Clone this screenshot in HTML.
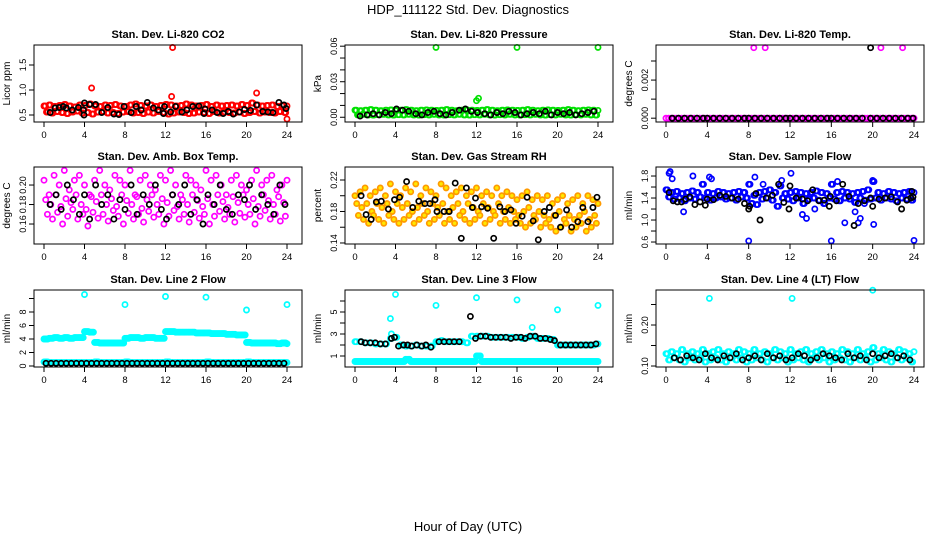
<!DOCTYPE html>
<html><head><meta charset="utf-8"><style>
body{margin:0;background:#fff}
svg{display:block;font-family:"Liberation Sans",sans-serif}
</style></head><body>
<svg id="chart" width="936" height="540" viewBox="0 0 936 540" xmlns="http://www.w3.org/2000/svg">
<text x="468" y="14" font-size="13" text-anchor="middle">HDP_111122  Std. Dev. Diagnostics</text>
<text x="468" y="531" font-size="13" text-anchor="middle">Hour of Day (UTC)</text>
</svg>
<script>
const xTicks=[0,4,8,12,16,20,24];
// CO2
const co2Hi=[0.68,0.70,0.67,0.69,0.71,0.68,0.66,0.70,0.69,0.72,0.68,0.67,0.70,0.69,0.71,0.68,0.67,0.70,0.72,0.69,0.68,0.70,0.67,0.69,0.71,0.70,0.68,0.69,0.72,0.70,0.68,0.69,0.71,0.67,0.70,0.68,0.69,0.70,0.68,0.71,0.69,0.74,0.70,0.68,0.69,0.70,0.67,0.69,0.68];
const co2Lo=[0.56,0.54,0.57,0.55,0.53,0.56,0.58,0.54,0.55,0.52,0.56,0.57,0.54,0.55,0.53,0.56,0.57,0.54,0.55,0.53,0.56,0.54,0.57,0.55,0.52,0.54,0.56,0.55,0.53,0.54,0.56,0.55,0.53,0.57,0.54,0.56,0.55,0.54,0.56,0.53,0.55,0.57,0.54,0.56,0.55,0.54,0.57,0.55,0.56];
const co2OutT=[4.7,12.6,12.7,21,24];
const co2OutV=[1.04,0.87,1.85,0.94,0.42];
const co2BlkT=[0.6,1.1,1.5,1.9,2.2,2.8,3.4,3.9,3.95,4,4.5,5.1,5.7,6.3,6.9,7.4,7.9,8.6,9.1,9.6,10.2,10.8,11.3,11.8,11.9,12.5,13,13.6,14.1,14.7,15.3,15.8,15.9,16.6,17.1,17.7,18.2,18.7,19.3,19.8,20.4,21,21.6,22.1,22.6,23.2,23.7,23.9];
const co2BlkV=[0.55,0.64,0.65,0.67,0.64,0.6,0.65,0.6,0.5,0.74,0.71,0.71,0.55,0.65,0.52,0.51,0.67,0.55,0.67,0.6,0.75,0.64,0.6,0.53,0.67,0.56,0.67,0.56,0.6,0.67,0.68,0.53,0.62,0.6,0.55,0.53,0.57,0.52,0.56,0.61,0.59,0.7,0.57,0.56,0.55,0.75,0.7,0.63];
// Pressure
const prsHi=[0.006,0.0055,0.006,0.0065,0.006,0.0055,0.006,0.0062,0.0058,0.006,0.0065,0.006,0.0055,0.006,0.0062,0.006,0.0058,0.006,0.0065,0.006,0.0055,0.006,0.0062,0.006,0.0058,0.006,0.0065,0.006,0.0055,0.006,0.0062,0.006,0.0058,0.006,0.0065,0.006,0.0055,0.006,0.0062,0.006,0.0058,0.006,0.0065,0.006,0.0055,0.006,0.0062,0.006,0.0058];
const prsLo=[0.002,0.0025,0.002,0.0018,0.0022,0.0025,0.002,0.0018,0.0022,0.002,0.0025,0.002,0.0018,0.0022,0.002,0.0025,0.002,0.0018,0.0022,0.002,0.0025,0.002,0.0018,0.0022,0.002,0.0025,0.002,0.0018,0.0022,0.002,0.0025,0.002,0.0018,0.0022,0.002,0.0025,0.002,0.0018,0.0022,0.002,0.0025,0.002,0.0018,0.0022,0.002,0.0025,0.002,0.0018,0.0022];
const prsOutT=[8,12,12.2,16,24];
const prsOutV=[0.059,0.014,0.016,0.059,0.059];
const prsBlkT=[0.5,1.2,1.8,2.4,3,3.6,4.1,4.7,5.3,6,6.6,7.2,7.8,8.4,9,9.6,10.3,10.9,11.5,12.1,12.8,13.4,14,14.6,15.2,15.8,16.4,17,17.6,18.2,18.8,19.4,20,20.6,21.2,21.8,22.4,23,23.6];
const prsBlkV=[0.001,0.002,0.003,0.002,0.004,0.003,0.007,0.006,0.005,0.003,0.002,0.004,0.005,0.003,0.002,0.004,0.006,0.007,0.005,0.004,0.003,0.002,0.004,0.003,0.005,0.004,0.002,0.003,0.004,0.003,0.005,0.002,0.004,0.003,0.004,0.002,0.003,0.004,0.005];
// Li-820 temp
const tmpMag=[0,0,0,0,0,0,0,0,0,0,0,0,0,0,0,0,0,0,0,0,0,0,0,0,0,0,0,0,0,0,0,0,0,0,0,0,0,0,0,0,0,0,0,0,0,0,0,0,0];
const tmpOutT=[8.5,9.6,20.8,22.9];
const tmpOutV=[0.0037,0.0037,0.0037,0.0037];
const tmpBlkT=[0.6,1.2,1.8,2.4,3,3.6,4,4.6,5.2,5.8,6.4,7,7.6,8,8.6,9.2,9.8,10.4,11,11.6,12,12.6,13.2,13.8,14.4,15,15.6,16,16.6,17.2,17.8,18.4,19,19.8,19.8,20.4,21,21.6,22.2,22.8,23.4,23.9];
const tmpBlkV=[0,0,0,0,0,0,0,0,0,0,0,0,0,0,0,0,0,0,0,0,0,0,0,0,0,0,0,0,0,0,0,0,0,0,0.0037,0,0,0,0,0,0,0];
// Amb box temp
const ambA=[0.205,0.19,0.21,0.2,0.215,0.195,0.205,0.21,0.2,0.19,0.205,0.215,0.2,0.195,0.21,0.205,0.2,0.215,0.19,0.205,0.21,0.2,0.195,0.21,0.205,0.215,0.2,0.19,0.21,0.205,0.2,0.195,0.215,0.205,0.21,0.2,0.19,0.205,0.21,0.2,0.195,0.205,0.215,0.2,0.205,0.21,0.195,0.2,0.205];
const ambB=[0.185,0.18,0.19,0.178,0.186,0.182,0.19,0.18,0.175,0.188,0.183,0.19,0.18,0.186,0.178,0.19,0.184,0.18,0.188,0.176,0.185,0.19,0.18,0.186,0.182,0.19,0.178,0.185,0.18,0.19,0.184,0.178,0.186,0.18,0.19,0.183,0.177,0.188,0.182,0.19,0.18,0.186,0.178,0.19,0.184,0.18,0.188,0.182,0.185];
const ambC=[0.17,0.165,0.172,0.16,0.168,0.175,0.165,0.17,0.158,0.172,0.166,0.17,0.163,0.174,0.168,0.16,0.171,0.165,0.17,0.162,0.173,0.167,0.17,0.16,0.168,0.174,0.165,0.17,0.162,0.172,0.166,0.17,0.16,0.168,0.173,0.165,0.17,0.162,0.171,0.167,0.17,0.16,0.168,0.174,0.165,0.17,0.163,0.168,0.172];
const ambBlkT=[0.6,1.2,1.7,2.3,2.9,3.5,4,4.5,5.1,5.7,6.3,6.9,7.5,8,8.6,9.2,9.8,10.4,11,11.6,12.1,12.7,13.3,13.9,14.5,15.1,15.7,16.2,16.8,17.4,18,18.6,19.2,19.8,20.3,20.9,21.5,22.1,22.7,23.3,23.8];
const ambBlkV=[0.18,0.19,0.175,0.2,0.185,0.17,0.19,0.165,0.2,0.18,0.19,0.165,0.185,0.175,0.2,0.17,0.19,0.18,0.2,0.175,0.165,0.19,0.18,0.2,0.17,0.185,0.16,0.19,0.18,0.2,0.175,0.17,0.19,0.185,0.2,0.175,0.19,0.18,0.17,0.2,0.18];
// Gas stream RH
const rhA=[0.2,0.205,0.21,0.2,0.205,0.21,0.2,0.215,0.205,0.2,0.21,0.205,0.215,0.2,0.21,0.205,0.2,0.215,0.21,0.2,0.205,0.21,0.2,0.205,0.21,0.2,0.205,0.2,0.21,0.2,0.205,0.2,0.195,0.2,0.205,0.195,0.2,0.195,0.2,0.19,0.195,0.2,0.19,0.195,0.2,0.19,0.2,0.195,0.19];
const rhB=[0.19,0.185,0.19,0.18,0.19,0.185,0.19,0.18,0.19,0.185,0.19,0.18,0.185,0.19,0.18,0.19,0.185,0.19,0.18,0.185,0.19,0.18,0.19,0.185,0.18,0.19,0.185,0.18,0.19,0.18,0.185,0.18,0.175,0.18,0.185,0.175,0.18,0.175,0.17,0.175,0.18,0.17,0.175,0.17,0.175,0.18,0.17,0.175,0.18];
const rhC=[0.175,0.17,0.165,0.175,0.17,0.165,0.175,0.17,0.165,0.17,0.175,0.165,0.17,0.175,0.165,0.17,0.175,0.165,0.17,0.165,0.175,0.17,0.165,0.17,0.175,0.165,0.17,0.175,0.165,0.17,0.165,0.17,0.165,0.16,0.165,0.17,0.16,0.165,0.16,0.155,0.16,0.165,0.155,0.16,0.165,0.155,0.16,0.165,0.17];
const rhBlkT=[0.6,1.1,1.6,2.1,2.6,3.3,3.9,4.4,5.1,5.7,6.3,6.9,7.4,7.9,8.1,8.8,9.3,9.9,10.5,11,11.6,11.9,12.5,13.1,13.7,14.3,14.8,15.4,15.9,16.5,17,17.6,18.1,18.7,19.2,19.8,20.3,20.9,21.4,22,22.5,23,23.5,23.9];
const rhBlkV=[0.2,0.176,0.17,0.192,0.193,0.183,0.195,0.198,0.218,0.185,0.193,0.19,0.19,0.195,0.18,0.18,0.18,0.216,0.146,0.21,0.185,0.197,0.186,0.184,0.146,0.186,0.18,0.182,0.165,0.174,0.198,0.168,0.144,0.18,0.185,0.175,0.16,0.182,0.16,0.167,0.185,0.167,0.185,0.198];
// Sample flow
const sfA=[1.55,1.5,1.52,1.48,1.5,1.53,1.5,1.65,1.5,1.48,1.52,1.5,1.48,1.5,1.52,1.5,1.65,1.45,1.5,1.52,1.55,1.5,1.62,1.48,1.5,1.52,1.5,1.48,1.5,1.53,1.5,1.48,1.65,1.5,1.52,1.5,1.48,1.5,1.52,1.55,1.7,1.5,1.48,1.52,1.5,1.48,1.5,1.52,1.5];
const sfB=[1.42,1.38,1.4,1.35,1.4,1.38,1.42,1.4,1.36,1.4,1.42,1.38,1.4,1.36,1.42,1.4,1.3,1.28,1.38,1.4,1.36,1.25,1.4,1.38,1.35,1.4,1.3,1.38,1.4,1.36,1.3,1.4,1.38,1.35,1.4,1.38,1.32,1.4,1.36,1.38,1.4,1.36,1.4,1.38,1.35,1.4,1.38,1.36,1.4];
const sfOutT=[0.3,0.4,0.6,1.7,2.6,4.2,4.4,8,8.6,9.4,11.2,12.1,13.2,13.6,14.4,16,16.6,17.3,18.3,18.6,18.8,19.2,20,20.1,24];
const sfOutV=[1.85,1.88,1.75,1.15,1.8,1.78,1.75,0.62,1.78,1.65,1.72,1.85,1.1,1.03,1.2,0.62,1.7,0.95,1.15,0.95,1.03,1.3,1.72,0.92,0.63];
const sfBlkT=[0.3,0.7,1.1,1.5,1.9,2.3,2.8,3.3,3.8,4,4.6,5.2,5.8,6.4,7,7.6,8,8.1,8.7,9.1,9.7,10.3,10.9,11.4,11.9,12,12.6,13.2,13.7,14.2,14.8,15.3,15.8,15.9,16.5,17.1,17.7,18.2,18.6,19.2,19.8,20,20.6,21.2,21.8,22.4,22.8,23.3,23.7,23.8,23.9];
const sfBlkV=[1.5,1.35,1.33,1.33,1.38,1.42,1.28,1.33,1.27,1.38,1.37,1.45,1.43,1.4,1.38,1.3,1.2,1.25,1.48,1.0,1.4,1.45,1.65,1.32,1.2,1.62,1.4,1.38,1.35,1.55,1.35,1.36,1.25,1.43,1.35,1.65,1.43,0.9,1.3,1.35,1.4,1.25,1.38,1.4,1.42,1.33,1.2,1.36,1.4,1.52,1.42];
// Line 2 flow
const l2Hi=[4.0,4.1,4.2,4.1,4.2,4.1,4.2,4.2,5.1,5.0,3.5,3.4,3.4,3.4,3.4,3.4,4.1,4.2,4.2,4.1,4.2,4.2,4.1,4.1,5.1,5.1,5.0,5.0,5.0,5.0,4.9,4.9,4.9,4.8,4.8,4.8,4.7,4.7,4.6,4.6,3.5,3.4,3.4,3.4,3.4,3.4,3.3,3.4,3.3];
const l2Lo=[0.6,0.5,0.5,0.5,0.5,0.5,0.5,0.5,0.5,0.5,0.6,0.5,0.5,0.5,0.5,0.5,0.6,0.5,0.5,0.5,0.5,0.5,0.5,0.5,0.6,0.5,0.5,0.5,0.5,0.5,0.5,0.5,0.6,0.5,0.5,0.5,0.5,0.5,0.5,0.5,0.6,0.5,0.5,0.5,0.5,0.5,0.5,0.5,0.5];
const l2Blk=[0.4,0.4,0.4,0.4,0.4,0.4,0.4,0.4,0.4,0.4,0.4,0.4,0.4,0.4,0.4,0.4,0.4,0.4,0.4,0.4,0.4,0.4,0.4,0.4,0.4,0.4,0.4,0.4,0.4,0.4,0.4,0.4,0.4,0.4,0.4,0.4,0.4,0.4,0.4,0.4,0.4,0.4,0.4,0.4,0.4,0.4,0.4,0.4,0.4];
const l2OutT=[4,8,12,16,20,24];
const l2OutV=[10.6,9.1,10.3,10.2,8.3,9.1];
// Line 3 flow
const l3Hi=[2.3,2.3,2.2,2.2,2.1,2.1,2.1,2.6,2.7,2.0,1.9,1.9,2.0,1.9,1.9,1.9,2.3,2.4,2.3,2.3,2.3,2.3,2.2,2.8,2.8,2.8,2.8,2.7,2.7,2.7,2.7,2.7,2.7,2.6,2.7,2.8,2.6,2.6,2.6,2.5,2.0,2.0,2.0,2.0,2.0,2.0,2.0,2.0,2.1];
const l3Lo=[0.5,0.5,0.5,0.5,0.5,0.5,0.5,0.5,0.5,0.5,0.7,0.5,0.5,0.5,0.5,0.5,0.5,0.5,0.5,0.5,0.5,0.5,0.5,0.5,1.0,0.5,0.5,0.5,0.5,0.5,0.5,0.5,0.5,0.5,0.5,0.5,0.5,0.5,0.5,0.5,0.5,0.5,0.5,0.5,0.5,0.5,0.5,0.5,0.5];
const l3OutT=[3.5,3.6,4,8,12,16,17.5,20,24];
const l3OutV=[4.4,3.0,6.6,5.6,6.3,6.1,3.6,5.2,5.6];
const l3BlkT=[0.6,1.0,1.5,2.0,2.5,3.0,3.6,3.9,4.3,4.8,5.2,5.6,6.1,6.6,7.0,7.5,8.3,8.8,9.3,9.8,10.3,11.4,11.9,12.4,12.9,13.4,13.9,14.4,14.9,15.4,15.9,16.4,16.8,17.3,17.8,18.3,18.8,19.3,19.7,20.3,20.8,21.3,21.8,22.3,22.8,23.3,23.8];
const l3BlkV=[2.3,2.2,2.2,2.2,2.1,2.1,2.6,2.7,1.9,2.0,2.0,1.9,2.0,1.9,2.0,1.8,2.3,2.3,2.3,2.3,2.3,4.6,2.6,2.8,2.8,2.7,2.7,2.7,2.7,2.6,2.7,2.7,2.6,2.8,2.8,2.6,2.6,2.5,2.4,2.0,2.0,2.0,2.0,2.0,2.0,2.0,2.1];
// Line 4 flow
const l4A=[0.13,0.135,0.13,0.14,0.13,0.135,0.13,0.14,0.13,0.135,0.14,0.13,0.135,0.13,0.14,0.135,0.13,0.14,0.13,0.135,0.13,0.14,0.135,0.13,0.14,0.13,0.135,0.14,0.13,0.135,0.14,0.13,0.135,0.13,0.14,0.135,0.13,0.14,0.13,0.135,0.145,0.13,0.14,0.135,0.13,0.14,0.135,0.13,0.135];
const l4B=[0.115,0.12,0.115,0.11,0.12,0.115,0.12,0.11,0.115,0.12,0.115,0.11,0.12,0.115,0.12,0.11,0.115,0.12,0.115,0.11,0.12,0.115,0.12,0.11,0.115,0.12,0.115,0.11,0.12,0.115,0.12,0.11,0.115,0.12,0.115,0.11,0.12,0.115,0.12,0.11,0.115,0.12,0.115,0.11,0.12,0.115,0.12,0.11,0.115];
const l4OutT=[4.2,12.2,20];
const l4OutV=[0.265,0.265,0.285];
const l4BlkT=[0.8,1.4,2,2.6,3.2,3.8,4.4,5,5.6,6.2,6.8,7.4,8,8.6,9.2,9.8,10.4,11,11.6,12.2,12.8,13.4,14,14.6,15.2,15.8,16.4,17,17.6,18.2,18.8,19.4,20,20.6,21.2,21.8,22.4,23,23.6];
const l4BlkV=[0.12,0.115,0.125,0.12,0.115,0.13,0.12,0.115,0.125,0.12,0.13,0.115,0.12,0.125,0.115,0.13,0.12,0.125,0.115,0.12,0.13,0.125,0.115,0.12,0.13,0.125,0.12,0.115,0.13,0.12,0.125,0.115,0.13,0.12,0.125,0.13,0.12,0.125,0.115];

const NS="http://www.w3.org/2000/svg";
const svg=document.getElementById('chart');
const colLeft=[34,345,656], rowTop=[45,167,290], W=268, H=77;
const panels=[
 {name:'co2',title:'Stan. Dev. Li-820 CO2',yl:'Licor ppm',r:[0.36,1.9],ticks:[0.5,1.0,1.5],labs:['0.5','1.0','1.5'],rep:[0,0.125],
  dense:[[co2Hi,0],[co2Lo,0.25]],col:'#ff0000',fill:'none',out:[co2OutT,co2OutV],blk:[co2BlkT,co2BlkV]},
 {name:'pressure',title:'Stan. Dev. Li-820 Pressure',yl:'kPa',r:[-0.004,0.061],ticks:[0,0.01,0.02,0.03,0.04,0.05,0.06],labs:['0.00','','','0.03','','','0.06'],rep:[0,0.125],
  dense:[[prsHi,0],[prsLo,0.25]],col:'#00e000',fill:'none',out:[prsOutT,prsOutV],blk:[prsBlkT,prsBlkV]},
 {name:'li820-temp',title:'Stan. Dev. Li-820 Temp.',yl:'degrees C',r:[-0.0002,0.00384],ticks:[0,0.001,0.002,0.003],labs:['0.000','','0.002',''],rep:[0,0.25],
  dense:[[tmpMag,0]],col:'#ff00ff',fill:'none',out:[tmpOutT,tmpOutV],blk:[tmpBlkT,tmpBlkV]},
 {name:'amb-box-temp',title:'Stan. Dev. Amb. Box Temp.',yl:'degrees C',r:[0.1395,0.2185],ticks:[0.16,0.18,0.20],labs:['0.16','0.18','0.20'],rep:[0],
  dense:[[ambA,0],[ambB,0.17],[ambC,0.34]],col:'#ff00ff',fill:'none',out:[[],[]],blk:[ambBlkT,ambBlkV]},
 {name:'gas-stream-rh',title:'Stan. Dev. Gas Stream RH',yl:'percent',r:[0.1387,0.2365],ticks:[0.14,0.16,0.18,0.20,0.22],labs:['0.14','','0.18','','0.22'],rep:[0],
  dense:[[rhA,0],[rhB,0.17],[rhC,0.34]],col:'#ff9a00',fill:'#ffe800',out:[[],[]],blk:[rhBlkT,rhBlkV]},
 {name:'sample-flow',title:'Stan. Dev. Sample Flow',yl:'ml/min',r:[0.564,1.964],ticks:[0.6,0.8,1.0,1.2,1.4,1.6,1.8],labs:['0.6','','1.0','','1.4','','1.8'],rep:[0,0.125],
  dense:[[sfA,0],[sfB,0.25]],col:'#0000ff',fill:'none',out:[sfOutT,sfOutV],blk:[sfBlkT,sfBlkV]},
 {name:'line2-flow',title:'Stan. Dev. Line 2 Flow',yl:'ml/min',r:[-0.15,11.26],ticks:[0,2,4,6,8,10],labs:['0','2','4','6','8',''],rep:[0,0.125],
  dense:[[l2Hi,0],[l2Hi,0.25],[l2Lo,0],[l2Lo,0.25]],col:'#00ffff',fill:'none',out:[l2OutT,l2OutV],blkDense:[[l2Blk,0.2]],blk:[[],[]]},
 {name:'line3-flow',title:'Stan. Dev. Line 3 Flow',yl:'ml/min',r:[0.0,7.0],ticks:[1,2,3,4,5,6],labs:['1','','3','','5',''],rep:[0,0.125],
  dense:[[l3Hi,0],[l3Lo,0],[l3Lo,0.25]],col:'#00ffff',fill:'none',out:[l3OutT,l3OutV],blk:[l3BlkT,l3BlkV]},
 {name:'line4-flow',title:'Stan. Dev. Line 4 (LT) Flow',yl:'ml/min',r:[0.0976,0.2854],ticks:[0.10,0.15,0.20,0.25],labs:['0.10','','0.20',''],rep:[0,0.125],
  dense:[[l4A,0],[l4B,0.25]],col:'#00ffff',fill:'none',out:[l4OutT,l4OutV],blk:[l4BlkT,l4BlkV]}
];
function mk(tag,attrs,parent){const e=document.createElementNS(NS,tag);for(const k in attrs)e.setAttribute(k,attrs[k]);(parent||svg).appendChild(e);return e;}
panels.forEach((p,i)=>{
  const L=colLeft[i%3], T=rowTop[Math.floor(i/3)];
  const g=mk('g',{});
  
  
  const span=(i%3===2)?248:243;
  const xs=t=>L+10+t*span/24;
  const ys=v=>T+H-(v-p.r[0])/(p.r[1]-p.r[0])*H;
  const title=mk('text',{x:L+W/2,y:T-7,'font-size':11,'font-weight':'bold','text-anchor':'middle'},g);
  title.textContent=p.title;
  
  
  const yl=mk('text',{x:0,y:0,'font-size':10,'text-anchor':'middle',transform:`translate(${L-24},${T+H/2}) rotate(-90)`},g);
  yl.textContent=p.yl;
  
  
  const pts=mk('g',{},g);
  function pt(t,v,stroke,fill){
    const c=mk('circle',{cx:xs(t).toFixed(1),cy:ys(v).toFixed(1),r:2.6,fill:fill,stroke:stroke,'stroke-width':1.7},pts);
    
    
  }
  p.dense.forEach(([arr,off])=>arr.forEach((v,k)=>{p.rep.forEach(d=>{const t=k*0.5+off+d;if(t<=24.1)pt(t,v,p.col,p.fill);});}));
  p.out[0].forEach((t,k)=>pt(t,p.out[1][k],p.col,p.fill));
  (p.blkDense||[]).forEach(([arr,off])=>arr.forEach((v,k)=>{const t=k*0.5+off;if(t<=24)pt(t,v,'#000','none');}));
  p.blk[0].forEach((t,k)=>pt(t,p.blk[1][k],'#000','none'));
  const box=mk('rect',{x:L,y:T,width:W,height:H,fill:'none',stroke:'#000','stroke-width':1},g);
  
  
  xTicks.forEach(t=>{
    mk('line',{x1:xs(t),x2:xs(t),y1:T+H,y2:T+H+5,stroke:'#000'},g);
    const tx=mk('text',{x:xs(t),y:T+H+16,'font-size':9.5,'text-anchor':'middle'},g);
    tx.textContent=t;
    
    
  });
  p.ticks.forEach((v,k)=>{
    mk('line',{x1:L-5,x2:L,y1:ys(v),y2:ys(v),stroke:'#000'},g);
    if(p.labs[k]){
      const ty=mk('text',{x:0,y:0,'font-size':9,'text-anchor':'middle',transform:`translate(${L-8},${ys(v)}) rotate(-90)`},g);
      ty.textContent=p.labs[k];
      
      
    }
  });
});
</script>
</body></html>
